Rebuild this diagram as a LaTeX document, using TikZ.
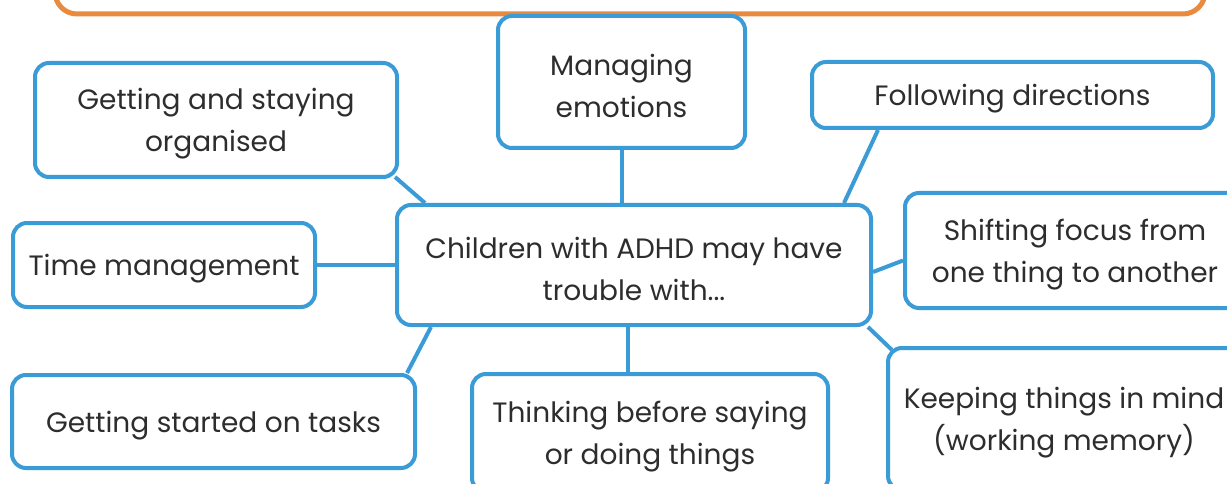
\documentclass[tikz,border=0pt]{standalone}
\usepackage{fontspec}
\setmainfont{Poppins}
\usetikzlibrary{backgrounds}
\definecolor{boxblue}{RGB}{58,155,215}
\definecolor{barorange}{RGB}{233,139,62}
\definecolor{txt}{RGB}{45,45,45}
\newcommand\tstrut{\rule{0pt}{29pt}}
\tikzset{
  topic/.style={draw=boxblue, line width=4pt, rounded corners=14pt, fill=white,
    align=center, text=txt, font=\fontsize{28}{42}\selectfont, inner sep=0pt},
  link/.style={draw=boxblue, line width=4pt}
}
\begin{document}
\begin{tikzpicture}[x=1pt,y=-1pt]
\useasboundingbox (0,0) rectangle (1227,484);
\draw[barorange, line width=5pt, rounded corners=22pt, fill=white] (55,-40) rectangle (1205,14);
\node[topic, minimum width=362pt, minimum height=114pt] (org) at (216,120) {\tstrut Getting and staying\\organised};
\node[topic, minimum width=247pt, minimum height=132pt] (emo) at (621.5,82) {\tstrut Managing\\emotions};
\node[topic, minimum width=401pt, minimum height=66pt] (fol) at (1012.5,95) {\tstrut Following directions};
\node[topic, minimum width=474pt, minimum height=120pt] (ctr) at (634,265) {\tstrut Children with ADHD may have\\trouble with...};
\node[topic, minimum width=302pt, minimum height=84pt] (time) at (164,265) {\tstrut Time management};
\node[topic, minimum width=340pt, minimum height=115pt] (shift) at (1075,250.5) {\tstrut Shifting focus from\\one thing to another};
\node[topic, minimum width=403pt, minimum height=93pt] (start) at (213.5,421.5) {\tstrut Getting started on tasks};
\node[topic, minimum width=356pt, minimum height=118pt] (think) at (650,433) {\tstrut Thinking before saying\\or doing things};
\node[topic, minimum width=352pt, minimum height=142pt] (keep) at (1064,419) {\tstrut Keeping things in mind\\(working memory)};
\begin{scope}[on background layer]
\draw[link] ([xshift=-4pt,yshift=2pt]org.south east) -- ([xshift=30pt]ctr.north west);
\draw[link] (emo.south) -- (emo.south |- ctr.north);
\draw[link] ([xshift=68pt]fol.south west) -- ([xshift=-29pt]ctr.north east);
\draw[link] (time.east) -- (ctr.west);
\draw[link] ([yshift=-10pt]shift.west) -- ([yshift=-7pt]ctr.east);
\draw[link] ([xshift=-10pt]start.north east) -- ([xshift=36pt]ctr.south west);
\draw[link] ([xshift=-22pt]think.north) -- ([xshift=-22pt]think.north |- ctr.south);
\draw[link] ([xshift=6pt,yshift=-4pt]keep.north west) -- ([xshift=-5pt]ctr.south east);
\end{scope}
\end{tikzpicture}
\end{document}
